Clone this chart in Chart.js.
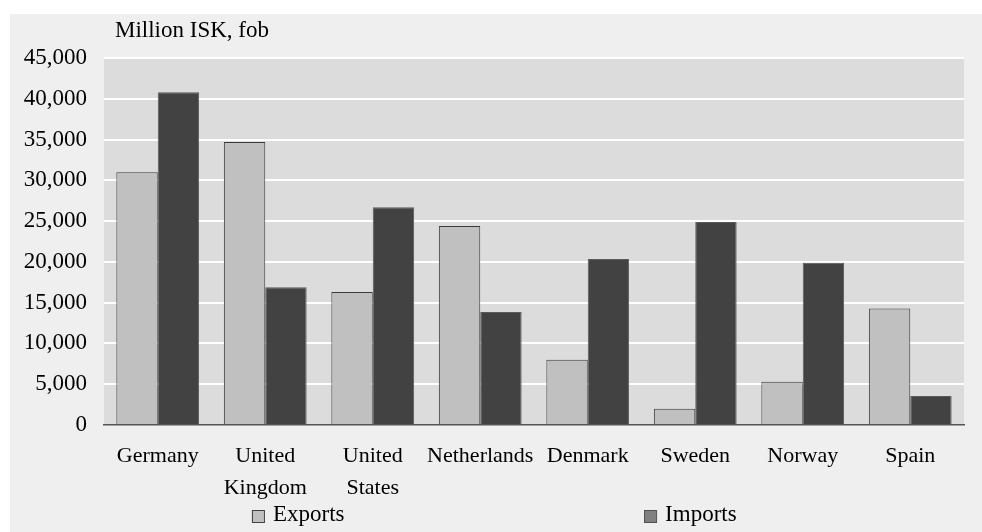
<!DOCTYPE html>
<html>
<head>
<meta charset="utf-8">
<script src="https://cdn.jsdelivr.net/npm/chart.js@4.4.0/dist/chart.umd.min.js"></script>
<style>
  html, body { margin: 0; padding: 0; background: #ffffff; }
  #wrap { position: absolute; left: 10px; top: 14px; width: 972px; height: 518px; background: #efefef; }
</style>
</head>
<body>
<div id="wrap"><canvas id="chart" width="972" height="518"></canvas></div>
<script>
// values, million ISK fob
const countries = [['Germany'], ['United', 'Kingdom'], ['United', 'States'], ['Netherlands'], ['Denmark'], ['Sweden'], ['Norway'], ['Spain']]
const exportsIsk = [31000, 34700, 16300, 24400, 8000, 2000, 5300, 14300]
const importsIsk = [40800, 16900, 26700, 13850, 20350, 24900, 19900, 3550]
const unitLabel = 'Million ISK, fob'
const legendNames = ['Exports', 'Imports']

const FONT = '"Liberation Serif", "Times New Roman", serif'

// grey plot area, title and the spread out legend like the original
const decor = {
  id: 'decor',
  beforeDraw(chart) {
    const a = chart.chartArea
    const ctx = chart.ctx
    ctx.save()
    ctx.fillStyle = '#dcdcdc'
    ctx.fillRect(a.left, a.top, a.right - a.left, a.bottom - a.top)
    ctx.restore()
  },
  afterDraw(chart) {
    const a = chart.chartArea
    const w = a.right - a.left
    const ctx = chart.ctx
    ctx.save()
    ctx.font = '23px ' + FONT
    ctx.fillStyle = '#000'
    ctx.textBaseline = 'alphabetic'
    ctx.fillText(unitLabel, a.left + 11, 23)

    const base = chart.height - 11
    const items = [
      { x: a.left + w * 0.172, fill: '#c0c0c0', stroke: '#404040', text: legendNames[0] },
      { x: a.left + w * 0.628, fill: '#808080', stroke: '#505050', text: legendNames[1] }
    ]
    items.forEach(it => {
      ctx.fillStyle = it.fill
      ctx.fillRect(it.x, base - 11, 12, 12)
      ctx.strokeStyle = it.stroke
      ctx.lineWidth = 1
      ctx.strokeRect(it.x + 0.5, base - 10.5, 12, 12)
      ctx.fillStyle = '#000'
      ctx.fillText(it.text, it.x + 21, base)
    })
    ctx.restore()
  }
}

new Chart(document.getElementById('chart'), {
  type: 'bar',
  data: {
    labels: countries,
    datasets: [
      {
        label: legendNames[0],
        data: exportsIsk,
        backgroundColor: '#c0c0c0',
        borderColor: '#3a3a3a',
        borderWidth: 1,
        categoryPercentage: 0.77,
        barPercentage: 1.0
      },
      {
        label: legendNames[1],
        data: importsIsk,
        backgroundColor: '#424242',
        borderColor: '#5a5a5a',
        borderWidth: 1,
        categoryPercentage: 0.77,
        barPercentage: 1.0
      }
    ]
  },
  options: {
    responsive: false,
    animation: false,
    layout: { padding: { top: 44, right: 18, left: 0, bottom: 0 } },
    plugins: {
      legend: { display: false },
      title: { display: false },
      tooltip: { enabled: false }
    },
    scales: {
      x: {
        grid: { display: false, drawTicks: false },
        border: { display: true, color: '#555555', width: 1.5 },
        ticks: {
          color: '#000',
          padding: 15,
          maxRotation: 0,
          autoSkip: false,
          font: { family: FONT, size: 22, lineHeight: 1.45 }
        },
        afterFit(scale) { scale.height = 107 }
      },
      y: {
        min: 0,
        max: 45000,
        border: { display: false },
        grid: {
          drawTicks: false,
          lineWidth: 2,
          color: function (context) {
            if (context.tick.value == 0) {
              return 'rgba(0,0,0,0)'
            }
            return '#ffffff'
          }
        },
        ticks: {
          stepSize: 5000,
          padding: 17,
          color: '#000',
          font: { family: FONT, size: 23 },
          callback: v => v.toLocaleString('en-US')
        },
        afterFit(scale) { scale.width = 94 }
      }
    }
  },
  plugins: [decor]
})
</script>
</body>
</html>
